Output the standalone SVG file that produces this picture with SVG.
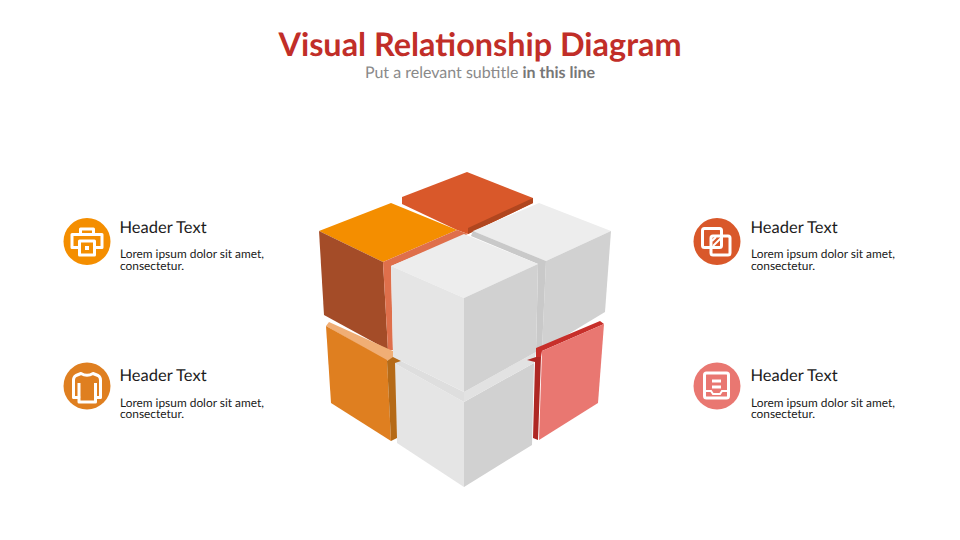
<svg xmlns="http://www.w3.org/2000/svg" width="960" height="540" viewBox="0 0 960 540">
<style>
text{font-family:Lato,"Liberation Sans",sans-serif;text-rendering:geometricPrecision}
.title{font-size:32.400px;font-weight:700;fill:#C12E28;text-anchor:middle}
.sub{font-size:16px;fill:#8A8A8A;text-anchor:middle}
.sub tspan{font-weight:700;fill:#777}
.h{font-size:16.500px;fill:#1c1c1c}
.b{font-size:11.900px;fill:#1c1c1c}
.i{fill:none;stroke:#fff;stroke-width:3;stroke-linejoin:round}
.t{fill:#EDEDED}.l{fill:#E5E5E5}.r{fill:#D1D1D1}
</style>
<rect width="960" height="540" fill="#fff"/>
<text class="title" x="480" y="55.500">Visual Relationship Diagram</text>
<text class="sub" x="480" y="78">Put a relevant subtitle <tspan>in this line</tspan></text>
<g id="cube">
<g id="block-top-back">
<polygon points="467,172 533,198 533,203 468,234 457,230 402,204 402,197" fill="#D9582A"/>
<polygon points="533,198 533,203 468,234 468,228" fill="#B0461F"/>
</g>
<g id="block-top-left">
<polygon points="391,203 457,230 383,262 319,231" fill="#F48E00"/>
<polygon points="319,231 383,262 388,350 324,315" fill="#A44C28"/>
<polygon points="383,262 457,230 468,234 391,266 393,350 388,350" fill="#DF6F4B"/>
</g>
<g id="block-top-right">
<polygon class="t" points="539,203 611,231 546,261 473,231"/>
<polygon class="r" points="546,261 611,231 605,312 542,350"/>
<polygon fill="#C9C9C9" points="473,231 546,261 542,350 536,352 538,264 471,236"/>
</g>
<g id="block-bottom-front">
<polygon class="l" points="394,363 464,402 464,487 397,443"/>
<polygon class="r" points="464,402 534,363 532,445 464,487"/>
<polygon fill="#DEDEDE" points="393,357 464,392 464,402 394,363"/>
<polygon fill="#E2E2E2" points="464,392 536,352 534,363 464,402"/>
</g>
<g id="block-top-front">
<polygon class="t" points="464,234 538,264 464,298 391,266"/>
<polygon class="l" points="391,266 464,298 464,392 393,357"/>
<polygon class="r" points="464,298 538,264 536,352 464,392"/>
</g>
<g id="block-bottom-left">
<polygon points="329,322 393,351 393,358 387,361 326,326" fill="#F0AE75"/>
<polygon points="326,326 387,360 391,441 331,403" fill="#DF7F20"/>
<polygon points="387,361 393,357 401,361 395,363 397,438 391,441" fill="#B56A17"/>
</g>
<g id="block-bottom-right">
<polygon points="600,321 604,324 542,351 541,357 536,357 536,348" fill="#C72F2A"/>
<polygon points="604,324 598,403 539,440 542,351" fill="#E97771"/>
<polygon points="527,360 536,357 541,357 538,440 533,438 535,362" fill="#AE2723"/>
</g>
</g>
<g id="item-top-left">
<circle cx="87" cy="241.500" r="23.500" fill="#F48E00"/>
<path class="i" d="M80.500 234.500V229H93.500V234.500M79 247.500H72V234.500H102V247.500H95"/>
<rect class="i" x="79.500" y="241" width="15" height="14"/>
<rect x="85" y="246" width="4" height="4" fill="#fff"/>
<text class="h" x="119.500" y="232.500">Header Text</text>
<text class="b" x="120" y="258">Lorem ipsum dolor sit amet,<tspan x="120" dy="11.500">consectetur.</tspan></text>
</g>
<g id="item-bottom-left">
<circle cx="87" cy="386" r="23.500" fill="#DF7F20"/>
<path class="i" d="M81 373.500Q87 377 93 373.500L98 375.500Q100.500 377 100.500 380V397.500H95.500V402H79V397.500H73.500V380Q73.500 377 76 375.500Z"/>
<path class="i" d="M79 383V397.500M95.500 383V397.500"/>
<text class="h" x="119.500" y="381">Header Text</text>
<text class="b" x="120" y="406.500">Lorem ipsum dolor sit amet,<tspan x="120" dy="11.500">consectetur.</tspan></text>
</g>
<g id="item-top-right">
<circle cx="717" cy="241.500" r="23.500" fill="#D9582A"/>
<rect class="i" x="702.500" y="228.500" width="19" height="19" rx="2"/>
<rect class="i" x="711" y="236" width="19" height="19" rx="2"/>
<path d="M712 241L716 237M713 246L721 238" stroke="#fff" stroke-width="2" fill="none"/>
<text class="h" x="750.500" y="232.500">Header Text</text>
<text class="b" x="751" y="258">Lorem ipsum dolor sit amet,<tspan x="751" dy="11.500">consectetur.</tspan></text>
</g>
<g id="item-bottom-right">
<circle cx="717" cy="386" r="23.500" fill="#E97771"/>
<rect class="i" x="704.500" y="373" width="24" height="25" rx="2"/>
<path class="i" d="M712 381H721M712 387H721"/>
<path d="M705 391H711L713 394H720L722 391H728" fill="none" stroke="#fff" stroke-width="2"/>
<text class="h" x="750.500" y="381">Header Text</text>
<text class="b" x="751" y="406.500">Lorem ipsum dolor sit amet,<tspan x="751" dy="11.500">consectetur.</tspan></text>
</g>
</svg>
